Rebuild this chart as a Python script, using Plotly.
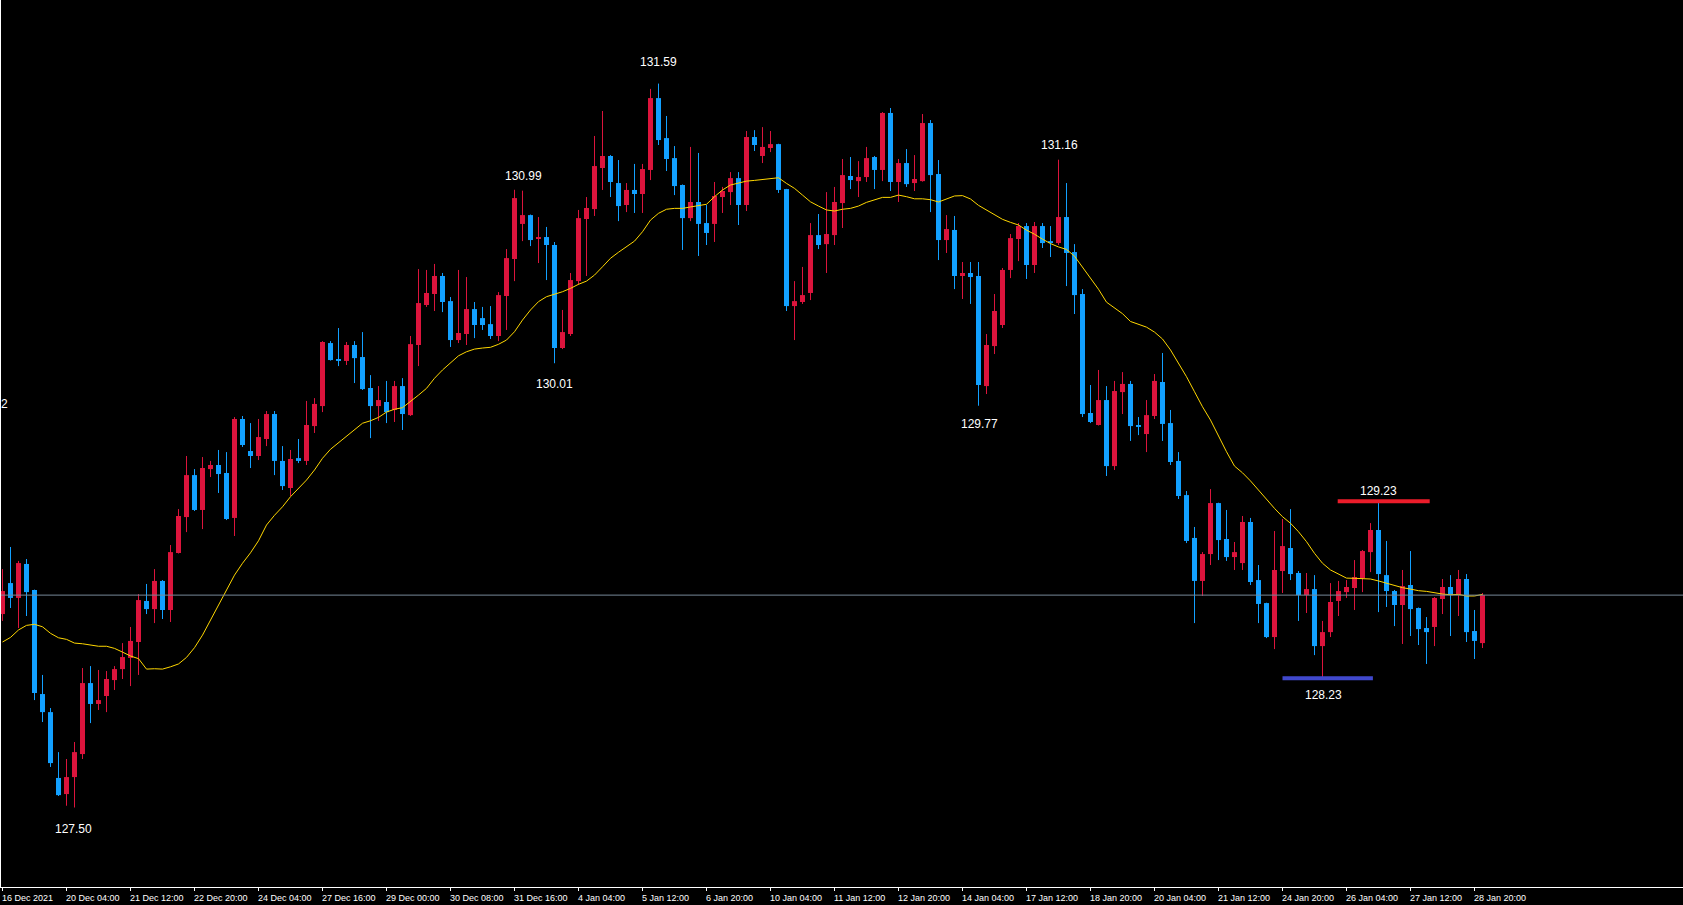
import plotly.graph_objects as go

# ---------------- data (USDJPY-like H4 bars) ----------------
bar_open = [128.593,128.768,128.684,128.876,128.729,128.141,128.039,127.667,127.576,127.672,
127.802,128.203,128.085,128.130,128.220,128.282,128.345,128.435,128.667,128.621,
128.780,128.616,128.938,129.141,129.378,129.181,129.412,129.435,129.390,129.136,
129.695,129.514,129.486,129.582,129.723,129.458,129.305,129.474,129.458,129.655,
129.768,130.124,130.034,130.023,130.113,130.045,129.870,129.768,129.791,129.746,
129.881,129.717,130.113,130.339,130.401,130.503,130.361,130.141,130.175,130.316,
130.265,130.231,130.164,130.390,130.599,130.797,130.847,130.712,130.723,130.678,
130.096,130.175,130.474,130.825,130.881,131.113,131.181,131.028,130.904,130.989,
130.966,131.102,131.508,131.282,131.169,131.017,130.830,130.921,130.802,130.797,
130.949,130.977,131.056,130.904,131.288,131.181,131.226,131.248,130.994,130.333,
130.356,130.407,130.734,130.683,130.734,130.915,131.068,131.039,131.062,131.175,
131.102,131.424,131.034,131.141,131.028,131.039,131.367,131.079,130.706,130.763,
130.503,130.520,130.503,129.881,130.107,130.226,130.537,130.712,130.785,130.565,
130.785,130.700,130.689,130.836,130.638,130.401,129.729,129.661,129.802,129.429,
129.847,129.893,129.661,129.610,129.712,129.904,129.672,129.458,129.265,129.023,
128.780,128.932,129.220,129.017,128.915,128.881,129.113,128.785,128.655,128.463,
128.836,128.966,128.825,128.700,128.734,128.412,128.491,128.667,128.717,128.740,
128.796,128.943,129.068,128.813,128.723,128.644,128.757,128.627,128.514,128.520,
128.678,128.746,128.700,128.791,128.497,128.429]

bar_high = [128.847,128.972,128.893,128.904,128.731,128.249,128.062,127.813,127.774,127.870,
128.288,128.299,128.277,128.271,128.299,128.429,128.520,128.706,128.763,128.847,
128.785,128.983,129.186,129.486,129.412,129.480,129.458,129.520,129.508,129.706,
129.712,129.672,129.695,129.740,129.740,129.542,129.520,129.582,129.797,129.813,
130.135,130.135,130.209,130.130,130.135,130.186,129.943,129.881,129.910,129.910,
129.926,130.164,130.542,130.537,130.571,130.520,130.384,130.537,130.497,130.356,
130.328,130.333,130.412,130.655,130.990,130.985,130.850,130.836,130.780,130.695,
130.311,130.520,130.876,130.949,131.294,131.435,131.186,131.158,131.028,131.136,
131.136,131.560,131.590,131.407,131.237,131.020,131.232,131.198,130.904,131.034,
131.006,131.090,131.090,131.322,131.327,131.344,131.322,131.250,130.995,130.474,
130.554,130.802,130.853,130.977,131.006,131.164,131.175,131.152,131.232,131.181,
131.429,131.452,131.164,131.220,131.186,131.418,131.384,131.158,130.847,130.842,
130.582,130.582,130.582,130.175,130.401,130.548,130.740,130.802,130.802,130.808,
130.802,130.785,131.160,131.028,130.683,130.429,129.887,129.972,129.881,129.910,
129.960,129.910,129.706,129.802,129.949,130.068,129.746,129.508,129.288,129.085,
128.943,129.299,129.222,129.181,129.000,129.147,129.136,128.870,128.657,129.062,
129.130,129.186,128.836,128.825,128.813,128.554,128.768,128.780,128.785,128.898,
128.955,129.107,129.230,129.006,128.729,128.842,128.949,128.630,128.576,128.689,
128.791,128.813,128.842,128.819,128.616,128.712]

bar_low = [128.554,128.627,128.514,128.582,128.107,127.983,127.729,127.565,127.510,127.500,
127.774,127.977,128.051,128.039,128.164,128.226,128.186,128.249,128.593,128.542,
128.565,128.548,128.935,129.056,129.175,129.073,129.367,129.277,129.124,129.034,
129.537,129.418,129.463,129.542,129.378,129.294,129.260,129.446,129.435,129.616,
129.734,130.025,129.994,130.000,129.898,129.859,129.587,129.684,129.672,129.678,
129.633,129.712,129.994,130.328,130.305,130.299,130.102,130.124,130.113,130.152,
130.198,130.147,130.135,130.198,130.474,130.700,130.672,130.576,130.480,130.010,
130.090,130.164,130.452,130.503,130.842,130.989,130.949,130.813,130.864,130.859,
130.859,131.045,131.243,131.096,130.960,130.650,130.813,130.616,130.678,130.695,
130.859,130.904,130.791,130.870,131.209,131.141,131.203,130.972,130.305,130.141,
130.345,130.367,130.655,130.520,130.678,130.774,130.994,130.949,131.034,130.994,
131.039,130.983,130.921,131.006,130.983,131.036,130.864,130.593,130.633,130.429,
130.373,130.345,129.770,129.836,130.062,130.209,130.491,130.587,130.486,130.520,
130.661,130.610,130.678,130.446,130.288,129.706,129.672,129.658,129.373,129.407,
129.723,129.571,129.604,129.508,129.695,129.571,129.435,129.243,128.994,128.542,
128.695,128.870,128.898,128.893,128.842,128.842,128.757,128.542,128.457,128.395,
128.712,128.785,128.554,128.599,128.361,128.230,128.463,128.582,128.684,128.616,
128.717,128.830,128.604,128.633,128.525,128.424,128.469,128.418,128.311,128.412,
128.593,128.469,128.582,128.435,128.339,128.401]

bar_close = [128.723,128.684,128.881,128.717,128.147,128.039,127.751,127.570,127.672,127.813,
128.203,128.085,128.107,128.226,128.282,128.350,128.441,128.672,128.621,128.780,
128.616,128.943,129.147,129.378,129.181,129.418,129.435,129.384,129.130,129.695,
129.548,129.486,129.593,129.723,129.458,129.316,129.469,129.458,129.661,129.780,
130.130,130.028,130.023,130.113,130.039,129.864,129.768,129.802,129.734,129.881,
129.723,130.118,130.350,130.407,130.503,130.356,130.141,130.181,130.316,130.226,
130.226,130.164,130.395,130.604,130.943,130.847,130.706,130.723,130.678,130.096,
130.186,130.480,130.830,130.887,131.124,131.181,131.034,130.898,130.989,130.966,
131.107,131.508,131.271,131.164,131.011,130.830,130.921,130.797,130.746,130.955,
130.983,131.056,130.904,131.288,131.243,131.232,131.248,130.989,130.333,130.361,
130.395,130.734,130.678,130.740,130.921,131.073,131.045,131.062,131.169,131.102,
131.424,131.034,131.141,131.022,131.051,131.367,131.073,130.706,130.768,130.503,
130.520,130.497,129.887,130.113,130.305,130.537,130.717,130.785,130.565,130.785,
130.689,130.689,130.836,130.633,130.395,129.723,129.678,129.802,129.429,129.853,
129.893,129.655,129.650,129.717,129.910,129.667,129.452,129.260,129.006,128.780,
128.932,129.220,129.011,128.915,128.943,129.113,128.774,128.650,128.463,128.842,
128.977,128.819,128.700,128.734,128.412,128.491,128.661,128.723,128.746,128.802,
128.949,129.068,128.819,128.723,128.644,128.751,128.621,128.508,128.491,128.684,
128.746,128.700,128.791,128.491,128.441,128.700]

moving_avg = [128.435,128.461,128.503,128.529,128.535,128.521,128.484,128.459,128.450,128.429,
128.425,128.418,128.411,128.411,128.399,128.378,128.356,128.341,128.282,128.284,
128.282,128.295,128.311,128.348,128.403,128.474,128.559,128.638,128.729,128.813,
128.880,128.939,129.007,129.096,129.151,129.199,129.256,129.303,129.350,129.407,
129.473,129.524,129.561,129.599,129.638,129.671,129.685,129.704,129.734,129.750,
129.759,129.793,129.830,129.868,129.925,129.972,130.010,130.052,130.075,130.090,
130.096,130.100,130.117,130.141,130.188,130.254,130.311,130.358,130.386,130.399,
130.414,130.433,130.456,130.474,130.508,130.555,130.603,130.637,130.668,130.700,
130.753,130.819,130.857,130.880,130.885,130.885,130.893,130.900,130.908,130.951,
130.989,131.017,131.026,131.039,131.043,131.049,131.055,131.058,131.026,130.998,
130.960,130.922,130.898,130.876,130.870,130.880,130.885,130.898,130.919,130.932,
130.947,130.947,130.960,130.951,130.939,130.939,130.934,130.921,130.939,130.955,
130.957,130.938,130.902,130.877,130.848,130.823,130.806,130.791,130.762,130.739,
130.711,130.686,130.667,130.653,130.615,130.552,130.485,130.428,130.355,130.323,
130.290,130.246,130.231,130.214,130.186,130.147,130.085,130.010,129.934,129.849,
129.764,129.689,129.595,129.510,129.429,129.391,129.345,129.294,129.237,129.190,
129.143,129.106,129.058,129.002,128.936,128.880,128.842,128.819,128.796,128.795,
128.795,128.791,128.780,128.767,128.757,128.742,128.734,128.725,128.721,128.713,
128.706,128.702,128.704,128.695,128.695,128.704]

bar_index = list(range(len(bar_open)))

tick_bars = list(range(0, 185, 8))
tick_text = ["16 Dec 2021", "20 Dec 04:00", "21 Dec 12:00", "22 Dec 20:00", "24 Dec 04:00",
             "27 Dec 16:00", "29 Dec 00:00", "30 Dec 08:00", "31 Dec 16:00", "4 Jan 04:00",
             "5 Jan 12:00", "6 Jan 20:00", "10 Jan 04:00", "11 Jan 12:00", "12 Jan 20:00",
             "14 Jan 04:00", "17 Jan 12:00", "18 Jan 20:00", "20 Jan 04:00", "21 Jan 12:00",
             "24 Jan 20:00", "26 Jan 04:00", "27 Jan 12:00", "28 Jan 20:00"]

# swing high / low labels
label_text = ["131.59", "130.99", "130.01", "131.16", "129.77", "127.50", "129.23", "128.23"]
label_bar = [82.0, 65.1, 69.0, 132.1, 122.1, 8.9, 172.0, 165.1]
label_price = [131.710, 131.068, 129.893, 131.243, 129.667, 127.381, 129.286, 128.135]

# drawn level markers
level_price = [129.23, 128.23]
level_from_bar = [166.9, 160.0]
level_to_bar = [178.4, 171.3]
level_color = ["#EC1C2A", "#4048CC"]

last_price = bar_close[-1]

# ---------------- styling ----------------
UP = "#DC143C"
DOWN = "#12A0FF"
MA_COLOR = "#FFD700"
W, H = 1683, 905
ML, MB = 1, 18
PX_PER_BAR = 8.0
PX_PER_PRICE = 177.0

plot_w = W - ML
plot_h = H - MB
x0 = -(2.5 - ML) / PX_PER_BAR
x_range = [x0, x0 + plot_w / PX_PER_BAR]
y_top = 128.23 + 678.3 / PX_PER_PRICE
y_range = [y_top - plot_h / PX_PER_PRICE, y_top]

up_x, up_base, up_h = [], [], []
dn_x, dn_base, dn_h = [], [], []
wick_up_x, wick_up_y, wick_dn_x, wick_dn_y = [], [], [], []
for i, o, h, l, c in zip(bar_index, bar_open, bar_high, bar_low, bar_close):
    if c >= o:
        up_x.append(i); up_base.append(o); up_h.append(max(c - o, 0.006))
        wick_up_x += [i, i, None]; wick_up_y += [l, h, None]
    else:
        dn_x.append(i); dn_base.append(c); dn_h.append(max(o - c, 0.006))
        wick_dn_x += [i, i, None]; wick_dn_y += [l, h, None]

fig = go.Figure()
fig.add_trace(go.Scatter(x=wick_up_x, y=wick_up_y, mode="lines",
                         line=dict(color=UP, width=1), hoverinfo="skip", showlegend=False))
fig.add_trace(go.Scatter(x=wick_dn_x, y=wick_dn_y, mode="lines",
                         line=dict(color=DOWN, width=1), hoverinfo="skip", showlegend=False))
fig.add_trace(go.Bar(x=up_x, y=up_h, base=up_base, width=0.625,
                     marker=dict(color=UP, line=dict(width=0)), hoverinfo="skip", showlegend=False))
fig.add_trace(go.Bar(x=dn_x, y=dn_h, base=dn_base, width=0.625,
                     marker=dict(color=DOWN, line=dict(width=0)), hoverinfo="skip", showlegend=False))
fig.add_trace(go.Scatter(x=bar_index, y=moving_avg, mode="lines",
                         line=dict(color=MA_COLOR, width=1), hoverinfo="skip", showlegend=False))

shapes = [dict(type="line", xref="paper", x0=0, x1=1, yref="y", y0=last_price, y1=last_price,
               line=dict(color="#778899", width=1), layer="above")]
for p, a, b, col in zip(level_price, level_from_bar, level_to_bar, level_color):
    shapes.append(dict(type="line", xref="x", x0=a, x1=b, yref="y", y0=p, y1=p,
                       line=dict(color=col, width=4), layer="above"))

annotations = []
for t, bx, py in zip(label_text, label_bar, label_price):
    annotations.append(dict(x=bx, y=py, xref="x", yref="y", text=t, showarrow=False,
                            xanchor="center", yanchor="middle",
                            font=dict(family="Liberation Sans, Arial", size=12, color="#FFFFFF"),
                            borderpad=0, borderwidth=0))
for tb, tt in zip(tick_bars, tick_text):
    annotations.append(dict(x=tb, y=0, xref="x", yref="paper", text=tt, showarrow=False,
                            xanchor="left", yanchor="middle", xshift=-1, yshift=-10.5,
                            font=dict(family="Liberation Sans, Arial", size=9, color="#FFFFFF"),
                            borderpad=0, borderwidth=0))
annotations.append(dict(x=0, y=129.782, xref="paper", yref="y", text="2", showarrow=False,
                        xanchor="left", yanchor="middle", xshift=0,
                        font=dict(family="Liberation Sans, Arial", size=12, color="#FFFFFF"),
                        borderpad=0, borderwidth=0))

fig.update_layout(
    width=W, height=H, autosize=False,
    margin=dict(l=ML, r=0, t=0, b=MB, pad=0),
    paper_bgcolor="#000000", plot_bgcolor="#000000",
    barmode="overlay", showlegend=False, hovermode=False,
    shapes=shapes, annotations=annotations,
    xaxis=dict(range=x_range, showgrid=False, zeroline=False, showline=True,
               linecolor="#FFFFFF", linewidth=1, ticks="outside", ticklen=3,
               tickcolor="#FFFFFF", tickwidth=1, tickvals=tick_bars, showticklabels=False,
               fixedrange=True),
    yaxis=dict(range=y_range, showgrid=False, zeroline=False, showline=True,
               linecolor="#FFFFFF", linewidth=1, ticks="", showticklabels=False,
               fixedrange=True),
)

fig.write_html("out.html", config={"displayModeBar": False, "staticPlot": True},
               post_script="document.body.style.margin='0';document.body.style.overflow='hidden';")
